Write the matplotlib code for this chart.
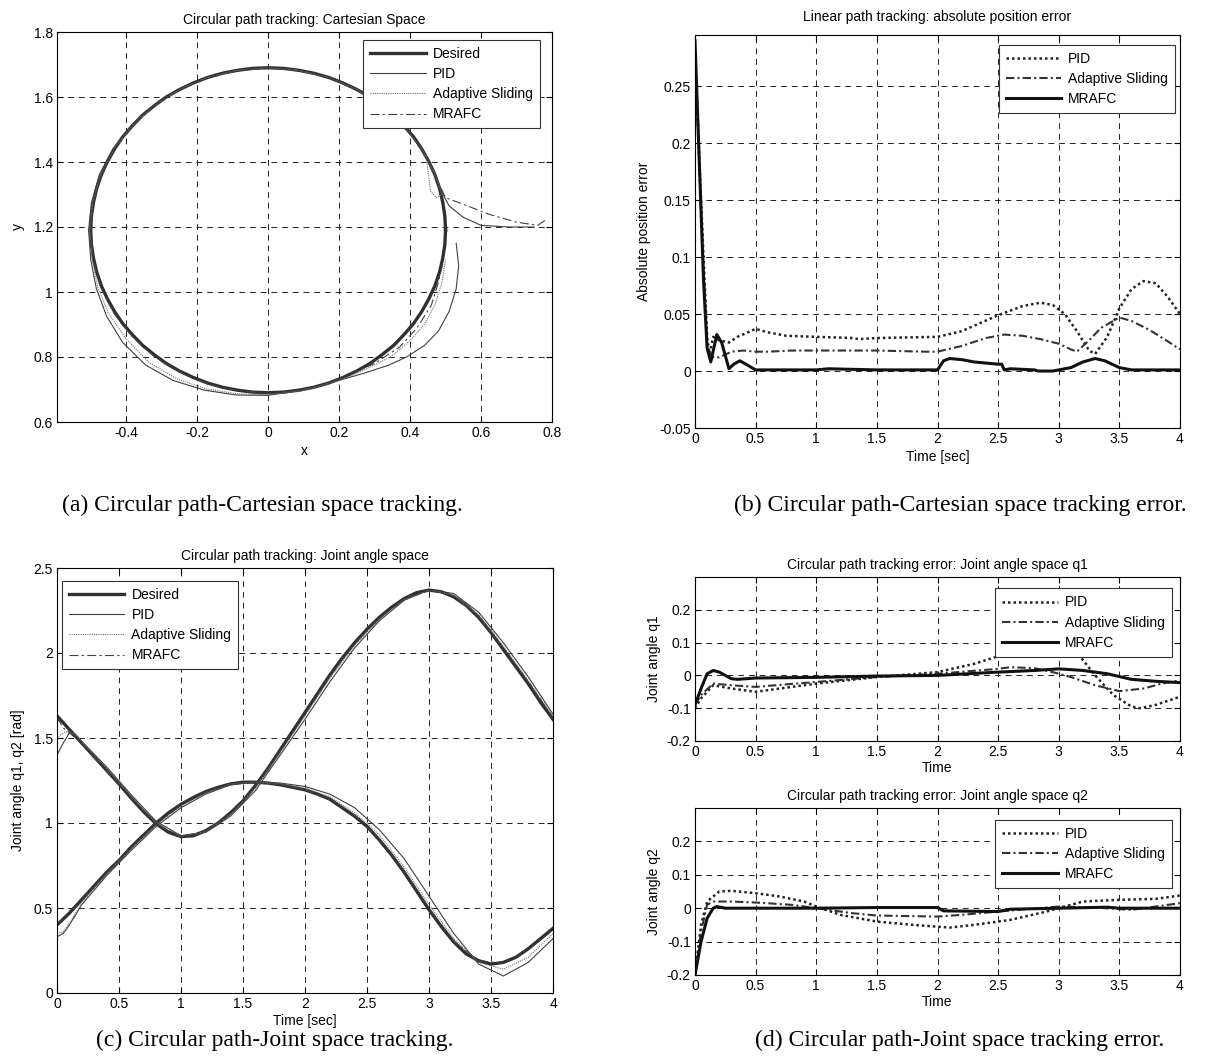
import matplotlib
matplotlib.use("Agg")
import matplotlib.pyplot as plt

plt.rcParams['font.family'] = ['Liberation Sans', 'DejaVu Sans']
plt.rcParams['font.size'] = 10

# ---------------- (a) Cartesian space ----------------
des_x = [0.500, 0.498, 0.492, 0.483, 0.470, 0.453, 0.433, 0.410, 0.383, 0.354, 0.321, 0.287,
         0.250, 0.211, 0.171, 0.129, 0.087, 0.044, 0.000,
         -0.044, -0.087, -0.129, -0.171, -0.211, -0.250, -0.287, -0.321, -0.354, -0.383,
         -0.410, -0.433, -0.453, -0.470, -0.483, -0.492, -0.498, -0.500,
         -0.498, -0.492, -0.483, -0.470, -0.453, -0.433, -0.410, -0.383, -0.354, -0.321,
         -0.287, -0.250, -0.211, -0.171, -0.129, -0.087, -0.044, 0.000,
         0.044, 0.087, 0.129, 0.171, 0.211, 0.250, 0.287, 0.321, 0.354, 0.383, 0.410, 0.433,
         0.453, 0.470, 0.483, 0.492, 0.498, 0.500]
des_y = [1.190, 1.234, 1.277, 1.319, 1.361, 1.401, 1.440, 1.477, 1.511, 1.544, 1.573, 1.600,
         1.623, 1.643, 1.660, 1.673, 1.682, 1.688, 1.690,
         1.688, 1.682, 1.673, 1.660, 1.643, 1.623, 1.600, 1.573, 1.544, 1.511,
         1.477, 1.440, 1.401, 1.361, 1.319, 1.277, 1.234, 1.190,
         1.146, 1.103, 1.061, 1.019, 0.979, 0.940, 0.903, 0.869, 0.836, 0.807,
         0.780, 0.757, 0.737, 0.720, 0.707, 0.698, 0.692, 0.690,
         0.692, 0.698, 0.707, 0.720, 0.737, 0.757, 0.780, 0.807, 0.836, 0.869, 0.903, 0.940,
         0.979, 1.019, 1.061, 1.103, 1.146, 1.190]

pid_x = [0.75, 0.68, 0.60, 0.55, 0.51, 0.488, 0.468, 0.433, 0.382, 0.320, 0.249, 0.170,
         0.086, 0.0, -0.088, -0.172, -0.252, -0.324, -0.387, -0.438, -0.476, -0.498,
         -0.506, -0.500, -0.484, -0.455, -0.410, -0.345, -0.268, -0.180, -0.090, 0.0,
         0.09, 0.18, 0.27, 0.34, 0.39, 0.44, 0.48, 0.51, 0.53, 0.537, 0.53]
pid_y = [1.20, 1.20, 1.205, 1.23, 1.265, 1.31, 1.37, 1.44, 1.511, 1.573, 1.623, 1.660,
         1.682, 1.690, 1.682, 1.660, 1.623, 1.573, 1.511, 1.440, 1.360, 1.275,
         1.190, 1.100, 1.010, 0.925, 0.845, 0.775, 0.728, 0.698, 0.683, 0.682,
         0.697, 0.722, 0.750, 0.775, 0.800, 0.835, 0.880, 0.940, 1.010, 1.080, 1.150]

ada_x = [0.445, 0.452, 0.458, 0.475, 0.490, 0.470, 0.433, 0.383, 0.321, 0.250, 0.171,
         0.087, 0.0, -0.087, -0.171, -0.250, -0.321, -0.383, -0.434, -0.472, -0.494,
         -0.502, -0.496, -0.480, -0.450, -0.400, -0.335, -0.258, -0.175, -0.088, 0.0,
         0.10, 0.20, 0.28, 0.345, 0.40, 0.44, 0.47, 0.49, 0.50]
ada_y = [1.420, 1.360, 1.310, 1.290, 1.300, 1.361, 1.440, 1.511, 1.573, 1.623, 1.660,
         1.682, 1.690, 1.682, 1.660, 1.623, 1.573, 1.511, 1.440, 1.360, 1.276,
         1.190, 1.100, 1.015, 0.935, 0.855, 0.783, 0.733, 0.702, 0.687, 0.684,
         0.697, 0.728, 0.765, 0.800, 0.850, 0.900, 0.960, 1.030, 1.100]

mra_x = [0.78, 0.76, 0.70, 0.62, 0.55, 0.50, 0.470, 0.433, 0.383, 0.321, 0.250, 0.171,
         0.087, 0.0, -0.087, -0.171, -0.250, -0.321, -0.383, -0.433, -0.470, -0.492,
         -0.500, -0.493, -0.472, -0.436, -0.386, -0.324, -0.252, -0.172, -0.087, 0.0,
         0.087, 0.171, 0.250, 0.30, 0.37, 0.42, 0.46, 0.48, 0.49]
mra_y = [1.22, 1.205, 1.215, 1.24, 1.27, 1.29, 1.361, 1.440, 1.511, 1.573, 1.623, 1.660,
         1.682, 1.690, 1.682, 1.660, 1.623, 1.573, 1.511, 1.440, 1.361, 1.277,
         1.190, 1.100, 1.016, 0.937, 0.866, 0.804, 0.755, 0.718, 0.696, 0.688,
         0.697, 0.720, 0.757, 0.780, 0.830, 0.890, 0.960, 1.030, 1.080]

# ---------------- (b) absolute position error ----------------
pidb_t = [0, 0.05, 0.1, 0.12, 0.15, 0.2, 0.28, 0.35, 0.5, 0.6, 0.75, 1.0, 1.3, 1.35, 1.5,
          2.0, 2.2, 2.5, 2.7, 2.85, 2.95, 3.05, 3.15, 3.25, 3.3, 3.4, 3.5, 3.6, 3.7, 3.8, 3.9, 4.0]
pidb_e = [0.28, 0.15, 0.03, 0.015, 0.03, 0.027, 0.025, 0.03, 0.037, 0.034, 0.031, 0.030, 0.029,
          0.028, 0.029, 0.030, 0.035, 0.049, 0.057, 0.060, 0.058, 0.050, 0.035, 0.018, 0.015,
          0.030, 0.055, 0.072, 0.079, 0.077, 0.065, 0.050]
adab_t = [0, 0.05, 0.1, 0.15, 0.2, 0.3, 0.4, 0.5, 0.6, 0.8, 1.0, 1.5, 1.9, 2.0, 2.2, 2.4, 2.55,
          2.7, 2.85, 3.0, 3.1, 3.15, 3.25, 3.35, 3.5, 3.6, 3.75, 3.9, 4.0]
adab_e = [0.28, 0.14, 0.02, 0.012, 0.012, 0.017, 0.018, 0.017, 0.017, 0.018, 0.018, 0.018, 0.017,
          0.017, 0.022, 0.029, 0.032, 0.031, 0.028, 0.024, 0.019, 0.017, 0.027, 0.038, 0.047,
          0.044, 0.036, 0.026, 0.019]
mrab_t = [0, 0.03, 0.07, 0.1, 0.13, 0.18, 0.22, 0.28, 0.32, 0.37, 0.42, 0.5, 1.0, 1.1, 1.5, 2.0,
          2.05, 2.1, 2.2, 2.3, 2.5, 2.53, 2.55, 2.6, 2.8, 2.83, 2.95, 3.1, 3.2, 3.3, 3.38, 3.5,
          3.6, 4.0]
mrab_e = [0.29, 0.20, 0.08, 0.02, 0.008, 0.032, 0.025, 0.002, 0.006, 0.009, 0.006, 0.001, 0.001,
          0.002, 0.001, 0.001, 0.009, 0.011, 0.010, 0.008, 0.006, 0.006, 0.001, 0.002, 0.001,
          0.0, 0.0, 0.003, 0.008, 0.011, 0.009, 0.003, 0.001, 0.001]

# ---------------- (c) joint angle space ----------------
des_t = [0.0, 0.1, 0.2, 0.3, 0.4, 0.5, 0.6, 0.7, 0.8, 0.9, 1.0, 1.1, 1.2, 1.3, 1.4, 1.5, 1.6,
         1.7, 1.8, 1.9, 2.0, 2.1, 2.2, 2.3, 2.4, 2.5, 2.6, 2.7, 2.8, 2.9, 3.0, 3.1, 3.2, 3.3,
         3.4, 3.5, 3.6, 3.7, 3.8, 3.9, 4.0]
des_q1 = [1.63, 1.55, 1.47, 1.39, 1.31, 1.23, 1.145, 1.065, 0.995, 0.945, 0.92, 0.925, 0.955,
          1.0, 1.06, 1.13, 1.22, 1.32, 1.43, 1.54, 1.65, 1.76, 1.87, 1.97, 2.06, 2.14, 2.21,
          2.27, 2.32, 2.355, 2.37, 2.36, 2.33, 2.28, 2.21, 2.12, 2.02, 1.92, 1.82, 1.71, 1.61]
des_q2 = [0.40, 0.47, 0.55, 0.63, 0.71, 0.78, 0.86, 0.93, 1.0, 1.06, 1.11, 1.15, 1.185, 1.21,
          1.23, 1.24, 1.24, 1.235, 1.225, 1.21, 1.195, 1.17, 1.14, 1.09, 1.04, 0.98, 0.90, 0.81,
          0.71, 0.60, 0.49, 0.39, 0.30, 0.23, 0.19, 0.17, 0.18, 0.21, 0.26, 0.32, 0.38]
trk_t = [0, 0.05, 0.1, 0.15, 0.2, 0.4, 0.6, 0.8, 1.0, 1.2, 1.4, 1.6, 1.8, 2.0, 2.2, 2.4, 2.6,
         2.8, 3.0, 3.2, 3.4, 3.6, 3.8, 4.0]
pid_q1 = [1.40, 1.47, 1.53, 1.52, 1.48, 1.33, 1.165, 1.01, 0.925, 0.945, 1.04, 1.19, 1.40,
          1.61, 1.83, 2.03, 2.19, 2.31, 2.37, 2.35, 2.24, 2.06, 1.86, 1.64]
pid_q2 = [0.33, 0.35, 0.40, 0.46, 0.52, 0.69, 0.84, 0.98, 1.09, 1.17, 1.225, 1.24, 1.235,
          1.215, 1.17, 1.09, 0.96, 0.79, 0.57, 0.35, 0.17, 0.10, 0.18, 0.32]
ada_q1 = [1.50, 1.53, 1.54, 1.52, 1.48, 1.32, 1.155, 1.0, 0.92, 0.95, 1.05, 1.205, 1.415,
          1.63, 1.85, 2.045, 2.20, 2.315, 2.37, 2.34, 2.225, 2.04, 1.84, 1.63]
ada_q2 = [0.35, 0.36, 0.41, 0.47, 0.53, 0.70, 0.85, 0.99, 1.10, 1.18, 1.23, 1.24, 1.23,
          1.205, 1.155, 1.06, 0.93, 0.74, 0.52, 0.32, 0.18, 0.14, 0.21, 0.35]
mra_q1 = [1.62, 1.56, 1.53, 1.50, 1.465, 1.305, 1.145, 0.995, 0.92, 0.955, 1.055, 1.215,
          1.425, 1.64, 1.865, 2.055, 2.205, 2.32, 2.37, 2.335, 2.215, 2.03, 1.83, 1.62]
mra_q2 = [0.40, 0.44, 0.48, 0.515, 0.55, 0.71, 0.86, 0.995, 1.105, 1.18, 1.23, 1.24, 1.225,
          1.195, 1.14, 1.045, 0.905, 0.72, 0.50, 0.305, 0.19, 0.175, 0.255, 0.37]

# ---------------- (d) joint space errors ----------------
pide1_t = [0, 0.05, 0.15, 0.3, 0.5, 0.7, 1.0, 1.5, 2.0, 2.3, 2.6, 2.8, 3.0, 3.15, 3.3, 3.45,
           3.6, 3.67, 3.8, 4.0]
pide1 = [-0.10, -0.07, -0.03, -0.04, -0.05, -0.04, -0.025, -0.005, 0.01, 0.035, 0.07, 0.088,
         0.09, 0.07, 0.0, -0.06, -0.095, -0.10, -0.09, -0.065]
adae1_t = [0, 0.05, 0.15, 0.3, 0.5, 1.0, 1.5, 2.0, 2.5, 2.6, 2.8, 2.95, 3.1, 3.3, 3.5, 3.7,
           3.85, 4.0]
adae1 = [-0.09, -0.06, -0.025, -0.03, -0.035, -0.02, -0.005, 0.005, 0.02, 0.025, 0.022, 0.01,
         -0.005, -0.03, -0.048, -0.04, -0.025, -0.015]
mrae1_t = [0, 0.05, 0.1, 0.15, 0.2, 0.3, 0.35, 0.5, 1.0, 1.5, 2.0, 2.5, 2.8, 3.0, 3.2, 3.4,
           3.6, 3.8, 4.0]
mrae1 = [-0.09, -0.04, 0.005, 0.015, 0.01, -0.01, -0.012, -0.008, -0.006, -0.002, 0.0, 0.01,
         0.015, 0.02, 0.015, 0.005, -0.012, -0.018, -0.022]

pide2_t = [0, 0.05, 0.1, 0.2, 0.3, 0.5, 0.7, 0.9, 1.0, 1.2, 1.5, 1.8, 2.1, 2.3, 2.6, 2.9, 3.0,
           3.2, 3.5, 3.8, 4.0]
pide2 = [-0.2, -0.05, 0.02, 0.05, 0.052, 0.045, 0.035, 0.02, 0.005, -0.02, -0.04, -0.05,
         -0.058, -0.05, -0.035, -0.01, 0.0, 0.02, 0.025, 0.028, 0.038]
adae2_t = [0, 0.05, 0.1, 0.15, 0.3, 0.5, 0.8, 1.0, 1.3, 1.5, 2.0, 2.2, 2.5, 3.0, 3.3, 3.6,
           3.8, 4.0]
adae2 = [-0.2, -0.07, 0.01, 0.02, 0.02, 0.017, 0.01, 0.0, -0.015, -0.022, -0.025, -0.02,
         -0.01, 0.005, 0.002, -0.005, 0.005, 0.015]
mrae2_t = [0, 0.05, 0.1, 0.15, 0.18, 0.25, 1.0, 1.5, 2.0, 2.05, 2.5, 2.6, 3.0, 3.4, 3.5, 4.0]
mrae2 = [-0.2, -0.1, -0.03, 0.0, 0.005, 0.0, 0.0, 0.002, 0.002, -0.008, -0.01, -0.003, 0.0,
         0.003, 0.0, 0.0]

labels4 = ['Desired', 'PID', 'Adaptive Sliding', 'MRAFC']
labels3 = ['PID', 'Adaptive Sliding', 'MRAFC']

W, H = 1210, 1060
fig = plt.figure(figsize=(W / 100, H / 100), dpi=100)


def rect(l, r, t, b):
    return [l / W, 1 - b / H, (r - l) / W, (b - t) / H]


def style(ax):
    ax.grid(True, color='#222222', linestyle=(0, (6, 5)), linewidth=0.7)
    ax.tick_params(direction='in', top=True, right=True, length=4, labelsize=10, pad=3)
    for s in ax.spines.values():
        s.set_linewidth(0.8)


def legend(ax, loc, anchor, fs=10):
    lg = ax.legend(loc=loc, bbox_to_anchor=anchor, fontsize=fs, handlelength=4.0,
                   fancybox=False, edgecolor='#333333', framealpha=1, borderaxespad=0,
                   labelspacing=0.45, handletextpad=0.5, borderpad=0.5)
    lg.get_frame().set_linewidth(0.8)
    return lg


thin = dict(linewidth=0.8)
# (a)
ax = fig.add_axes(rect(57, 552, 32, 422))
ax.plot(des_x, des_y, color='#303030', linewidth=2.4, label=labels4[0])
ax.plot(pid_x, pid_y, color='#404040', linestyle='-', label=labels4[1], **thin)
ax.plot(ada_x, ada_y, color='#707070', linestyle=(0, (1, 1)), label=labels4[2], **thin)
ax.plot(mra_x, mra_y, color='#404040', linestyle=(0, (8, 3, 2, 3)), label=labels4[3], **thin)
ax.set_xlim(-0.595, 0.8)
ax.set_ylim(0.6, 1.8)
ax.set_xticks([-0.4, -0.2, 0, 0.2, 0.4, 0.6, 0.8])
ax.set_xticklabels(['-0.4', '-0.2', '0', '0.2', '0.4', '0.6', '0.8'])
ax.set_yticks([0.6, 0.8, 1.0, 1.2, 1.4, 1.6, 1.8])
ax.set_yticklabels(['0.6', '0.8', '1', '1.2', '1.4', '1.6', '1.8'])
style(ax)
ax.set_title('Circular path tracking: Cartesian Space', fontsize=10, pad=6)
ax.set_xlabel('x', fontsize=10, labelpad=3)
ax.set_ylabel('y', fontsize=10, labelpad=6)
legend(ax, 'upper right', (0.975, 0.98))

# (b)
ax = fig.add_axes(rect(695, 1180, 35, 428))
ax.plot(pidb_t, pidb_e, color='#222222', linestyle=(0, (1, 1.2)), linewidth=1.8, label=labels3[0])
ax.plot(adab_t, adab_e, color='#333333', linestyle=(0, (4, 1.5, 1, 1.5)), linewidth=1.5,
        label=labels3[1])
ax.plot(mrab_t, mrab_e, color='#111111', linestyle='-', linewidth=2.2, label=labels3[2])
ax.set_xlim(0, 4)
ax.set_ylim(-0.05, 0.295)
ax.set_xticks([0, 0.5, 1, 1.5, 2, 2.5, 3, 3.5, 4])
ax.set_xticklabels(['0', '0.5', '1', '1.5', '2', '2.5', '3', '3.5', '4'])
ax.set_yticks([-0.05, 0, 0.05, 0.1, 0.15, 0.2, 0.25])
ax.set_yticklabels(['-0.05', '0', '0.05', '0.1', '0.15', '0.2', '0.25'])
style(ax)
ax.set_title('Linear path tracking: absolute position error', fontsize=10, pad=10)
ax.set_xlabel('Time [sec]', fontsize=10, labelpad=3)
ax.set_ylabel('Absolute position error', fontsize=10, labelpad=6)
legend(ax, 'upper right', (0.99, 0.975))

# (c)
ax = fig.add_axes(rect(57, 553, 568, 993))
ax.plot(des_t, des_q1, color='#303030', linewidth=2.4, label=labels4[0])
ax.plot(des_t, des_q2, color='#303030', linewidth=2.4)
ax.plot(trk_t, pid_q1, color='#404040', linestyle='-', label=labels4[1], **thin)
ax.plot(trk_t, pid_q2, color='#404040', linestyle='-', **thin)
ax.plot(trk_t, ada_q1, color='#707070', linestyle=(0, (1, 1)), label=labels4[2], **thin)
ax.plot(trk_t, ada_q2, color='#707070', linestyle=(0, (1, 1)), **thin)
ax.plot(trk_t, mra_q1, color='#404040', linestyle=(0, (8, 3, 2, 3)), label=labels4[3], **thin)
ax.plot(trk_t, mra_q2, color='#404040', linestyle=(0, (8, 3, 2, 3)), **thin)
ax.set_xlim(0, 4)
ax.set_ylim(0, 2.5)
ax.set_xticks([0, 0.5, 1, 1.5, 2, 2.5, 3, 3.5, 4])
ax.set_xticklabels(['0', '0.5', '1', '1.5', '2', '2.5', '3', '3.5', '4'])
ax.set_yticks([0, 0.5, 1, 1.5, 2, 2.5])
ax.set_yticklabels(['0', '0.5', '1', '1.5', '2', '2.5'])
style(ax)
ax.set_title('Circular path tracking: Joint angle space', fontsize=10, pad=6)
ax.set_xlabel('Time [sec]', fontsize=10, labelpad=2)
ax.set_ylabel('Joint angle q1, q2 [rad]', fontsize=10, labelpad=6)
legend(ax, 'upper left', (0.01, 0.97))

# (d)
for (top, bot, title, ylab, series) in [
        (577, 741, 'Circular path tracking error: Joint angle space q1', 'Joint angle q1',
         [(pide1_t, pide1), (adae1_t, adae1), (mrae1_t, mrae1)]),
        (808, 975, 'Circular path tracking error: Joint angle space q2', 'Joint angle q2',
         [(pide2_t, pide2), (adae2_t, adae2), (mrae2_t, mrae2)])]:
    ax = fig.add_axes(rect(695, 1180, top, bot))
    (t1, e1), (t2, e2), (t3, e3) = series
    ax.plot(t1, e1, color='#222222', linestyle=(0, (1, 1.2)), linewidth=1.8, label=labels3[0])
    ax.plot(t2, e2, color='#333333', linestyle=(0, (4, 1.5, 1, 1.5)), linewidth=1.5,
            label=labels3[1])
    ax.plot(t3, e3, color='#111111', linestyle='-', linewidth=2.2, label=labels3[2])
    ax.set_xlim(0, 4)
    ax.set_ylim(-0.2, 0.3)
    ax.set_xticks([0, 0.5, 1, 1.5, 2, 2.5, 3, 3.5, 4])
    ax.set_xticklabels(['0', '0.5', '1', '1.5', '2', '2.5', '3', '3.5', '4'])
    ax.set_yticks([-0.2, -0.1, 0, 0.1, 0.2])
    ax.set_yticklabels(['-0.2', '-0.1', '0', '0.1', '0.2'])
    style(ax)
    ax.set_title(title, fontsize=10, pad=6)
    ax.set_xlabel('Time', fontsize=10, labelpad=1)
    ax.set_ylabel(ylab, fontsize=10, labelpad=4)
    lg = legend(ax, 'upper right', (0.983, 0.93))
    lg.set_zorder(5)

# captions
serif = ['Liberation Serif', 'DejaVu Serif']
fig.text(262 / W, 1 - 505 / H, '(a) Circular path-Cartesian space tracking.', family=serif,
         fontsize=17, ha='center', va='center')
fig.text(960 / W, 1 - 505 / H, '(b) Circular path-Cartesian space tracking error.', family=serif,
         fontsize=17, ha='center', va='center')
fig.text(275 / W, 1 - 1040 / H, '(c) Circular path-Joint space tracking.', family=serif,
         fontsize=17, ha='center', va='center')
fig.text(960 / W, 1 - 1040 / H, '(d) Circular path-Joint space tracking error.', family=serif,
         fontsize=17, ha='center', va='center')

fig.savefig('out.png', dpi=100, facecolor='white')
